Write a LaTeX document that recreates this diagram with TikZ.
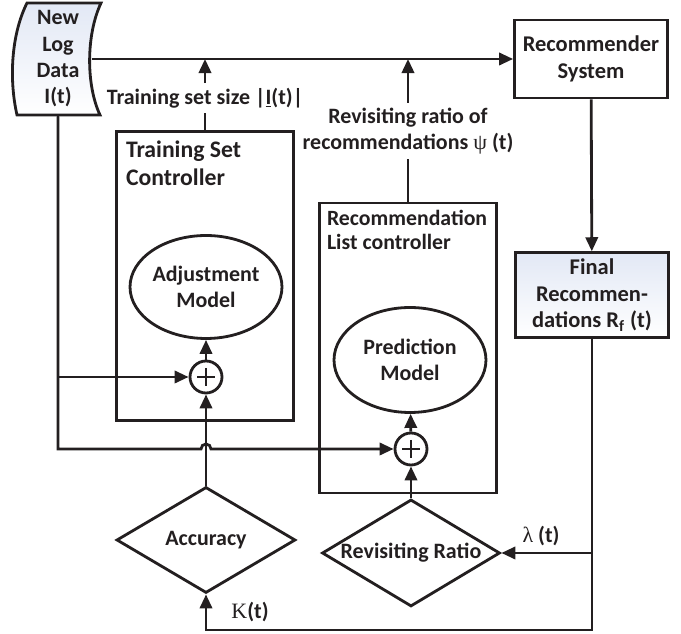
\documentclass[tikz,border=0pt]{standalone}
\usepackage{fontspec}
\setmainfont{Carlito}
\newfontfamily\greekfont{Liberation Serif}
\usetikzlibrary{arrows.meta,shapes.geometric,positioning,calc}
\definecolor{fillblue}{RGB}{226,232,245}
\definecolor{ink}{RGB}{35,31,32}

\begin{document}
\begin{tikzpicture}[
    x=0.02cm, y=-0.02cm,
    font=\bfseries\fontsize{12.5}{15}\selectfont,
    line width=1.6pt, color=ink,
    box/.style={draw, minimum width=3.06cm, minimum height=1.56cm, align=center,
                font=\bfseries\fontsize{12.8}{15.2}\selectfont},
    ctrl/.style={draw, minimum width=3.54cm, minimum height=5.8cm},
    title/.style={anchor=north west, align=left, inner sep=2pt},
    model/.style={draw, ellipse, minimum width=3.04cm, minimum height=2.06cm,
                  align=center, inner sep=0pt},
    sum/.style={draw, circle, minimum size=0.64cm, inner sep=0pt,
                path picture={\draw (path picture bounding box.center)
                  +(-9,0) -- +(9,0) +(0,-9) -- +(0,9);}},
    check/.style={draw, diamond, aspect=1.7, inner sep=0pt,
                  minimum width=3.58cm, minimum height=2.12cm},
    tag/.style={align=center, inner sep=2pt},
    lightfill/.style={top color=fillblue, bottom color=white, middle color=white!50!fillblue},
    arr/.style={-{Triangle[length=8pt,width=7pt]}}
]
\useasboundingbox (0,0) rectangle (681,634);

% log data (curved sides)
\path[draw, lightfill] (27,3) -- (101,3) .. controls (86,35) and (86,85) .. (100,115)
    -- (17,115) .. controls (9,80) and (11,35) .. (27,3) -- cycle;
\node[align=center, inner sep=0pt, minimum width=1.32cm, minimum height=2.24cm]
    (log) at (58,59) {New\\Log\\Data\\I(t)};

\node[box] (rec) at (591,59) {Recommender\\System};
\node[box, lightfill, minimum height=1.6cm] (final) at (592,295)
    {Final\\Recommen-\\dations R\textsubscript{f} (t)};

% controllers
\node[ctrl, minimum height=5.78cm] (tsc) at (205,276) {};
\node[title, font=\bfseries\fontsize{13.5}{16}\selectfont]
    (tsctitle) at ([shift={(6,6)}]tsc.north west) {Training Set\\Controller};
\node[ctrl] (rlc) at (408,348) {};
\node[title, font=\bfseries\fontsize{12.4}{13.5}\selectfont]
    (rlctitle) at ([shift={(4,4)}]rlc.north west) {Recommendation\\List controller};

\node[model] (adj) at (206,287) {Adjustment\\Model};
\node[model, minimum height=2.1cm] (pred) at (410,360) {Prediction\\Model};
\node[sum] (p1) at (206,377) {};
\node[sum] (p2) at (411,449) {};

\node[check] (acc) at (206,540) {Accuracy};
\node[check, minimum width=3.56cm, minimum height=2.14cm] (rev) at (411,553) {Revisiting Ratio};

% signal labels
\node[tag] (size) at (205,98) {Training set size |\underline{I}(t)|};
\node[tag] (ratio) at (408,131) {Revisiting ratio of\\recommendations {\greekfont\mdseries ψ} (t)};
\node[tag] (lam) at (541,536) {{\greekfont\mdseries λ} (t)};
\node[tag] (kap) at (250,612) {{\greekfont\mdseries Κ}(t)};
\coordinate (bot) at (592,630);

% connectors
\draw[arr] (log.east) -- (rec.west);
\draw[arr] (rec) -- (final);
\draw (tsc.north) -- (size.south);
\draw[arr] (size.north) -- (size.north |- log.east);
\draw (rlc.north) -- (ratio.south);
\draw[arr] (ratio.north) -- (ratio.north |- log.east);
\draw[arr] (log.south) |- (p1.west);
\draw[arr] (log.south) |- ($(acc.north |- p2.west)+(-5,0)$)
    arc (180:360:5) -- (p2.west);
\draw[arr] (p1) -- (adj);
\draw[arr] (p2) -- (pred);
\draw[arr] (acc.north) -- (p1.south);
\draw[arr] (rev.north) -- (p2.south);
\draw[arr] (final.south) |- (rev.east);
\draw[arr] (final.south) -- (bot) -| (acc.south);
\end{tikzpicture}
\end{document}
